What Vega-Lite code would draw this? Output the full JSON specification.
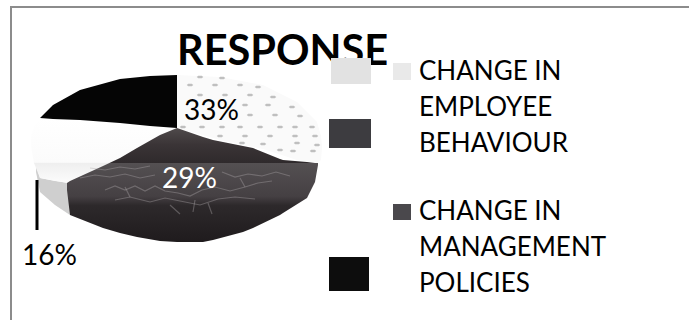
{
  "$schema": "https://vega.github.io/schema/vega-lite/v6.json",
  "width": 689,
  "height": 320,
  "padding": 0,
  "autosize": {"type": "none"},
  "background": "#ffffff",
  "view": {"stroke": null},
  "config": {"text": {"font": "Lato"}},
  "datasets": {
    "employee": [
      {"x":177,"top":75,"bottom":128},{"x":220,"top":77,"bottom":140},{"x":263,"top":85,"bottom":149},
      {"x":297,"top":102,"bottom":160},{"x":317,"top":122,"bottom":163},{"x":321,"top":136,"bottom":160},{"x":322,"top":146,"bottom":148}
    ],
    "management": [
      {"x":67,"top":183,"bottom":190},{"x":70,"top":181,"bottom":215},{"x":103,"top":166,"bottom":228},
      {"x":120,"top":158,"bottom":233},{"x":137,"top":148,"bottom":237},{"x":160,"top":135,"bottom":241},
      {"x":177,"top":128,"bottom":242},{"x":203,"top":137,"bottom":242},{"x":213,"top":140,"bottom":240},
      {"x":243,"top":146,"bottom":232},{"x":253,"top":148,"bottom":228},{"x":280,"top":159,"bottom":215},
      {"x":283,"top":160,"bottom":213},{"x":307,"top":162,"bottom":198},{"x":315,"top":163,"bottom":182},{"x":318,"top":163,"bottom":165}
    ],
    "white": [
      {"x":31,"top":136,"bottom":146},{"x":34,"top":127,"bottom":163},{"x":40,"top":118,"bottom":178},
      {"x":67,"top":120,"bottom":183},{"x":100,"top":122,"bottom":168},{"x":120,"top":123,"bottom":158},
      {"x":160,"top":127,"bottom":135},{"x":177,"top":128,"bottom":128}
    ],
    "side": [
      {"x":36,"top":165,"bottom":172},{"x":40,"top":178,"bottom":192},{"x":55,"top":181,"bottom":205},{"x":70,"top":183,"bottom":215}
    ],
    "other": [
      {"x":40,"top":118,"bottom":118},{"x":53,"top":105,"bottom":119},{"x":80,"top":90,"bottom":120},
      {"x":120,"top":79,"bottom":123},{"x":150,"top":76,"bottom":126},{"x":177,"top":75,"bottom":128}
    ],
    "dots": [
      {"x":200,"y":77},{"x":222,"y":78},
      {"x":190,"y":85},{"x":215,"y":85},{"x":240,"y":85},{"x":258,"y":87},
      {"x":200,"y":95},{"x":225,"y":95},{"x":250,"y":95},{"x":273,"y":97},
      {"x":245,"y":105},{"x":268,"y":105},{"x":292,"y":107},
      {"x":250,"y":115},{"x":275,"y":115},{"x":300,"y":116},
      {"x":183,"y":127},{"x":202,"y":127},{"x":222,"y":127},{"x":240,"y":127},{"x":260,"y":127},{"x":280,"y":127},{"x":295,"y":127},{"x":312,"y":127},
      {"x":220,"y":136},{"x":245,"y":136},{"x":270,"y":136},{"x":295,"y":136},{"x":315,"y":136},
      {"x":242,"y":143},{"x":263,"y":144},{"x":297,"y":143},{"x":317,"y":145},
      {"x":280,"y":150},{"x":293,"y":151},{"x":313,"y":151}
    ],
    "mesh": [
      {"strand":"a","x":80,"y":178},{"strand":"a","x":95,"y":175},{"strand":"a","x":110,"y":177},{"strand":"a","x":125,"y":174},{"strand":"a","x":140,"y":178},{"strand":"a","x":155,"y":175},
      {"strand":"b","x":105,"y":190},{"strand":"b","x":115,"y":186},{"strand":"b","x":125,"y":190},{"strand":"b","x":135,"y":186},{"strand":"b","x":145,"y":191},{"strand":"b","x":155,"y":186},{"strand":"b","x":165,"y":191},{"strand":"b","x":178,"y":193},{"strand":"b","x":190,"y":196},{"strand":"b","x":202,"y":190},{"strand":"b","x":215,"y":187},{"strand":"b","x":230,"y":191},{"strand":"b","x":245,"y":187},{"strand":"b","x":258,"y":183},{"strand":"b","x":272,"y":181},
      {"strand":"c","x":115,"y":200},{"strand":"c","x":130,"y":197},{"strand":"c","x":150,"y":202},{"strand":"c","x":165,"y":198},{"strand":"c","x":180,"y":201},{"strand":"c","x":200,"y":205},{"strand":"c","x":218,"y":199},{"strand":"c","x":235,"y":197},{"strand":"c","x":255,"y":199},
      {"strand":"d","x":222,"y":172},{"strand":"d","x":235,"y":177},{"strand":"d","x":248,"y":174},{"strand":"d","x":262,"y":176},{"strand":"d","x":276,"y":172},{"strand":"d","x":290,"y":176},
      {"strand":"e","x":90,"y":168},{"strand":"e","x":105,"y":170},{"strand":"e","x":120,"y":167},{"strand":"e","x":135,"y":169},{"strand":"e","x":150,"y":166},
      {"strand":"f","x":170,"y":205},{"strand":"f","x":180,"y":214},
      {"strand":"g","x":195,"y":200},{"strand":"g","x":193,"y":212},
      {"strand":"h","x":208,"y":203},{"strand":"h","x":212,"y":214},
      {"strand":"i","x":125,"y":187},{"strand":"i","x":130,"y":197},
      {"strand":"j","x":240,"y":178},{"strand":"j","x":245,"y":187}
    ],
    "swatches": [
      {"x":331,"x2":371,"y":58,"y2":84,"item":"checker"},
      {"x":329,"x2":371,"y":119,"y2":148,"item":"dark"},
      {"x":329,"x2":369,"y":257,"y2":291,"item":"black"},
      {"x":393,"x2":411,"y":63,"y2":80,"item":"light small"},
      {"x":393,"x2":411,"y":204,"y2":220,"item":"dark small"}
    ],
    "legendText": [
      {"x":419,"y":80,"label":"CHANGE IN"},
      {"x":419,"y":116,"label":"EMPLOYEE"},
      {"x":419,"y":152,"label":"BEHAVIOUR"},
      {"x":419,"y":220,"label":"CHANGE IN"},
      {"x":419,"y":256,"label":"MANAGEMENT"},
      {"x":419,"y":292,"label":"POLICIES"}
    ],
    "frame": [
      {"x":11,"y":320},{"x":11,"y":7},{"x":689,"y":7}
    ]
  },
  "layer": [
    {
      "data": {"name": "frame"},
      "mark": {"type": "line", "color": "#8c8c8c", "strokeWidth": 2},
      "encoding": {
        "x": {"field": "x", "type": "quantitative", "scale": {"domain": [0, 689], "nice": false, "zero": false}, "axis": null},
        "y": {"field": "y", "type": "quantitative", "scale": {"domain": [320, 0], "nice": false, "zero": false}, "axis": null},
        "order": {"value": 0}
      }
    },
    {
      "data": {"name": "employee"},
      "mark": {"type": "area", "color": "#fafafa"},
      "encoding": {
        "x": {"field": "x", "type": "quantitative"},
        "y": {"field": "top", "type": "quantitative"},
        "y2": {"field": "bottom"}
      }
    },
    {
      "data": {"name": "dots"},
      "mark": {"type": "point", "shape": "M-1,0L-0.55,-0.4L0.55,-0.4L1,0L0.55,0.4L-0.55,0.4Z", "filled": true, "size": 42, "color": "#b0b0b0", "opacity": 0.8},
      "encoding": {
        "x": {"field": "x", "type": "quantitative"},
        "y": {"field": "y", "type": "quantitative"}
      }
    },
    {
      "data": {"name": "side"},
      "mark": {"type": "area", "color": "#cfcfcf"},
      "encoding": {
        "x": {"field": "x", "type": "quantitative"},
        "y": {"field": "top", "type": "quantitative"},
        "y2": {"field": "bottom"}
      }
    },
    {
      "data": {"name": "white"},
      "mark": {"type": "area", "color": {
        "gradient": "linear", "x1": 0, "y1": 0, "x2": 0, "y2": 1,
        "stops": [
          {"offset": 0, "color": "#ffffff"},
          {"offset": 0.68, "color": "#fbfbfb"},
          {"offset": 0.7, "color": "#efefef"},
          {"offset": 1, "color": "#fcfcfc"}
        ]
      }},
      "encoding": {
        "x": {"field": "x", "type": "quantitative"},
        "y": {"field": "top", "type": "quantitative"},
        "y2": {"field": "bottom"}
      }
    },
    {
      "data": {"name": "other"},
      "mark": {"type": "area", "color": "#050505"},
      "encoding": {
        "x": {"field": "x", "type": "quantitative"},
        "y": {"field": "top", "type": "quantitative"},
        "y2": {"field": "bottom"}
      }
    },
    {
      "data": {"name": "management"},
      "mark": {"type": "area", "color": {
        "gradient": "linear", "x1": 0, "y1": 0, "x2": 0, "y2": 1,
        "stops": [
          {"offset": 0, "color": "#4f4a4b"},
          {"offset": 0.15, "color": "#3a3436"},
          {"offset": 0.305, "color": "#2f2a2c"},
          {"offset": 0.31, "color": "#545052"},
          {"offset": 0.6, "color": "#454043"},
          {"offset": 0.68, "color": "#2d292b"},
          {"offset": 1, "color": "#1f1b1d"}
        ]
      }},
      "encoding": {
        "x": {"field": "x", "type": "quantitative"},
        "y": {"field": "top", "type": "quantitative"},
        "y2": {"field": "bottom"}
      }
    },
    {
      "data": {"name": "mesh"},
      "mark": {"type": "line", "color": "#a9a6a8", "strokeWidth": 1.2, "opacity": 0.4},
      "encoding": {
        "x": {"field": "x", "type": "quantitative"},
        "y": {"field": "y", "type": "quantitative"},
        "detail": {"field": "strand"}
      }
    },
    {
      "data": {"values": [{"x": 37, "y": 180, "y2": 230}]},
      "mark": {"type": "rule", "color": "#000000", "strokeWidth": 3},
      "encoding": {
        "x": {"field": "x", "type": "quantitative"},
        "y": {"field": "y", "type": "quantitative"},
        "y2": {"field": "y2"}
      }
    },
    {
      "data": {"values": [{"x": 177, "y": 65, "label": "RESPONSE"}]},
      "mark": {"type": "text", "align": "left", "baseline": "alphabetic", "fontSize": 41.5, "fontWeight": "bold", "color": "#000000"},
      "encoding": {
        "x": {"field": "x", "type": "quantitative"},
        "y": {"field": "y", "type": "quantitative"},
        "text": {"field": "label"}
      }
    },
    {
      "data": {"name": "swatches"},
      "mark": {"type": "rect"},
      "encoding": {
        "x": {"field": "x", "type": "quantitative"},
        "x2": {"field": "x2"},
        "y": {"field": "y", "type": "quantitative"},
        "y2": {"field": "y2"},
        "color": {
          "field": "item", "type": "nominal", "legend": null,
          "scale": {
            "domain": ["checker", "dark", "black", "light small", "dark small"],
            "range": ["#e2e2e2", "#3d3c40", "#0d0d0d", "#e9e9e9", "#4a484c"]
          }
        }
      }
    },
    {
      "data": {"name": "legendText"},
      "mark": {"type": "text", "align": "left", "baseline": "alphabetic", "fontSize": 26, "color": "#000000"},
      "encoding": {
        "x": {"field": "x", "type": "quantitative"},
        "y": {"field": "y", "type": "quantitative"},
        "text": {"field": "label"}
      }
    },
    {
      "data": {"values": [
        {"x": 184, "y": 120, "label": "33%", "tone": "ink"},
        {"x": 162, "y": 188, "label": "29%", "tone": "paper"},
        {"x": 22, "y": 265, "label": "16%", "tone": "ink"}
      ]},
      "mark": {"type": "text", "align": "left", "baseline": "alphabetic", "fontSize": 28},
      "encoding": {
        "x": {"field": "x", "type": "quantitative"},
        "y": {"field": "y", "type": "quantitative"},
        "text": {"field": "label"},
        "fill": {"field": "tone", "type": "nominal", "legend": null, "scale": {"domain": ["ink", "paper"], "range": ["#000000", "#ffffff"]}}
      }
    }
  ],
  "resolve": {"scale": {"color": "independent"}}
}
